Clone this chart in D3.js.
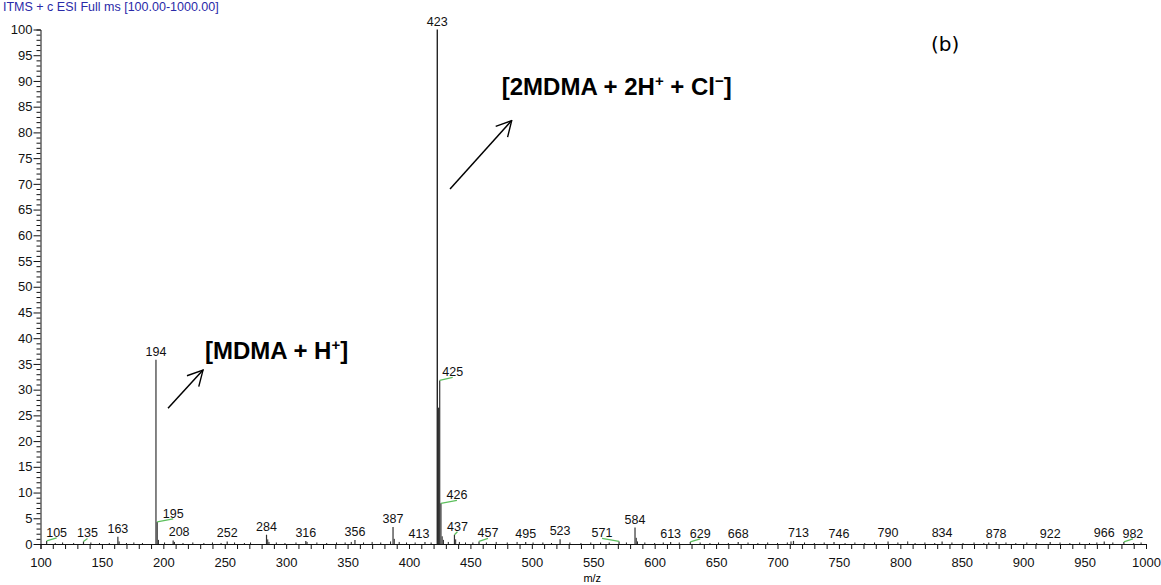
<!DOCTYPE html>
<html>
<head>
<meta charset="utf-8">
<script src="https://cdn.jsdelivr.net/npm/d3@7/dist/d3.min.js"></script>
<style>
body { margin: 0; background: #fff; }
svg { display: block; font-family: "Liberation Sans", Arial, sans-serif; }
</style>
</head>
<body>
<div id="chart"></div>
<script>
// main peaks: m/z and relative abundance (%)
var peakMz  = [105, 135, 163, 194, 195, 208, 252, 284, 316, 356, 387, 413, 423, 424, 425, 426, 437, 457, 495, 523, 571, 584, 613, 629, 668, 713, 746, 790, 834, 878, 922, 966, 982];
var peakInt = [0.6, 0.5, 1.4, 35.8, 4.3, 0.7, 0.5, 1.8, 0.6, 0.8, 3.3, 0.4, 100, 26.5, 31.8, 7.9, 1.8, 0.5, 0.4, 0.9, 0.5, 3.2, 0.4, 0.4, 0.4, 0.6, 0.4, 0.5, 0.5, 0.4, 0.4, 0.5, 0.4];
// peaks without a label
var unlabelled = [424];
// small baseline peaks [m/z, %]
var noise = [[112,0.2],[118,0.3],[127,0.2],[141,0.3],[148,0.2],[156,0.2],[164,0.5],[170,0.2],[176,0.3],[183,0.2],
  [196,0.8],[201,0.3],[209,0.4],[216,0.2],[224,0.3],[233,0.2],[240,0.3],[247,0.2],[258,0.3],[266,0.2],
  [271,0.3],[285,0.9],[286,0.4],[292,0.3],[299,0.2],[308,0.3],[317,0.4],[325,0.3],[333,0.2],[341,0.3],
  [348,0.3],[353,0.4],[363,0.3],[370,0.4],[377,0.3],[385,0.5],[388,1.0],[392,0.4],[398,0.3],[405,0.3],
  [418,0.3],[427,1.5],[428,0.8],[432,0.4],[438,0.9],[441,0.4],[446,0.3],[452,0.3],[463,0.3],[471,0.4],
  [480,0.3],[488,0.4],[501,0.3],[509,0.3],[516,0.2],[531,0.3],[540,0.2],[548,0.3],[556,0.3],[563,0.3],
  [577,0.3],[585,1.2],[586,0.5],[592,0.3],[600,0.2],[607,0.3],[620,0.3],[637,0.3],[645,0.2],[652,0.3],
  [660,0.2],[676,0.3],[684,0.2],[692,0.3],[700,0.2],[708,0.3],[711,0.5],[722,0.3],[730,0.2],[738,0.3],
  [755,0.2],[763,0.3],[771,0.2],[779,0.3],[798,0.3],[806,0.5],[812,0.2],[820,0.3],[828,0.2],[842,0.3],
  [851,0.2],[860,0.3],[868,0.2],[872,0.3],[886,0.3],[894,0.2],[903,0.3],[911,0.2],[930,0.3],[938,0.2],
  [946,0.3],[954,0.2],[960,0.3],[973,0.3],[990,0.2],[996,0.3]];
var xTicks = d3.range(100, 1001, 10);
var yTicks = d3.range(0, 101, 1);
var titleText = "ITMS + c ESI Full ms [100.00-1000.00]";

// label layout: horizontal nudge (px) and which ones get a green leader
var labelShift = {105: 10, 135: 4, 195: 16, 208: 6, 413: -6, 425: 13, 426: 16, 437: 3, 457: 9, 571: -17, 629: 10, 713: 5, 746: 5, 982: 9};
var leaders = [105, 135, 195, 425, 426, 437, 457, 571, 629, 982];

var W = 1161, H = 585;
var x = d3.scaleLinear().domain([100, 1000]).range([40.5, 1146]);
var y = d3.scaleLinear().domain([0, 100]).range([544, 29.5]);

var svg = d3.select("#chart").append("svg")
	.attr("width", W)
	.attr("height", H);

svg.append("defs").append("marker")
	.attr("id", "head")
	.attr("viewBox", "0 0 18 18")
	.attr("refX", 17).attr("refY", 9)
	.attr("markerWidth", 18).attr("markerHeight", 18)
	.attr("markerUnits", "userSpaceOnUse")
	.attr("orient", "auto")
	.append("path")
	.attr("d", "M2,1 L17,9 L2,17")
	.attr("fill", "none")
	.attr("stroke", "#000")
	.attr("stroke-width", 1.4);

// title
svg.append("text")
	.attr("x", 3).attr("y", 11)
	.attr("font-size", 12.5)
	.attr("fill", "#2a2aa8")
	.text(titleText);

// noise sticks
svg.append("g").selectAll("line")
	.data(noise)
	.enter().append("line")
	.attr("x1", function(d) { return x(d[0]); })
	.attr("x2", function(d) { return x(d[0]); })
	.attr("y1", y(0))
	.attr("y2", function(d) { return y(d[1]); })
	.attr("stroke", "#222")
	.attr("stroke-width", 1);

// main peaks
var peaks = peakMz.map(function(m, i) { return {mz: m, v: peakInt[i]}; });
svg.append("g").selectAll("line")
	.data(peaks)
	.enter().append("line")
	.attr("x1", function(d) { return x(d.mz); })
	.attr("x2", function(d) { return x(d.mz); })
	.attr("y1", y(0))
	.attr("y2", function(d) { return y(d.v); })
	.attr("stroke", function(d) { return d.mz == 423 ? "#000" : "#333"; })
	.attr("stroke-width", function(d) { return d.mz == 424 ? 2 : 1.2; });

// peak labels
var lab = peaks.filter(function(d) { return unlabelled.indexOf(d.mz) < 0; });
var g = svg.append("g");
g.selectAll("line")
	.data(lab.filter(function(d) { return leaders.indexOf(d.mz) >= 0; }))
	.enter().append("line")
	.attr("x1", function(d) { return x(d.mz); })
	.attr("y1", function(d) { return y(d.v); })
	.attr("x2", function(d) { return x(d.mz) + (labelShift[d.mz] || 0); })
	.attr("y2", function(d) { return y(d.v) - 3; })
	.attr("stroke", "#5cbf5c")
	.attr("stroke-width", 1.2);
g.selectAll("text")
	.data(lab)
	.enter().append("text")
	.attr("x", function(d) { return x(d.mz) + (labelShift[d.mz] || 0); })
	.attr("y", function(d) { return y(d.v) - 4; })
	.attr("text-anchor", "middle")
	.attr("font-size", 12.5)
	.attr("fill", "#111")
	.text(function(d) { return d.mz; });

// axes
var xAxis = d3.axisBottom(x)
	.tickValues(xTicks)
	.tickSizeOuter(0)
	.tickSize(5)
	.tickFormat(function(d) { return d % 50 == 0 ? d : ""; });
var gx = svg.append("g")
	.attr("transform", "translate(0," + y(0) + ")")
	.call(xAxis);
gx.selectAll("text").attr("font-size", 13).attr("dy", "1.15em").attr("fill", "#111")
	.attr("font-family", "Liberation Sans, Arial, sans-serif");

var yAxis = d3.axisLeft(y)
	.tickValues(yTicks)
	.tickSizeOuter(0)
	.tickSize(4)
	.tickFormat(function(d) { return d % 5 == 0 ? d : ""; });
var gy = svg.append("g")
	.attr("transform", "translate(" + x(100) + ",0)")
	.call(yAxis);
gy.selectAll(".tick line").attr("x2", function(d) { return d % 5 == 0 ? -7 : -4; });
gy.selectAll("text").attr("font-size", 13).attr("x", -8).attr("fill", "#111")
	.attr("font-family", "Liberation Sans, Arial, sans-serif");
svg.selectAll(".domain, .tick line").attr("stroke", "#111");

svg.append("text")
	.attr("x", x(550) - 1).attr("y", 582)
	.attr("text-anchor", "middle")
	.attr("font-size", 11)
	.text("m/z");

// panel tag
svg.append("text")
	.attr("x", 931).attr("y", 51)
	.attr("font-size", 20)
	.attr("font-family", "DejaVu Sans, sans-serif")
	.text("(b)");

// ion annotations (positions in data units)
var notes = [
	{from: [203.8, 26.4], to: [232.3, 33.8], at: [233.9, 36.0]},
	{from: [433.4, 69.0], to: [483.6, 82.3], at: [475.5, 87.3]}
];
svg.selectAll(".arrow")
	.data(notes)
	.enter().append("line")
	.attr("class", "arrow")
	.attr("x1", function(d) { return x(d.from[0]); })
	.attr("y1", function(d) { return y(d.from[1]); })
	.attr("x2", function(d) { return x(d.to[0]); })
	.attr("y2", function(d) { return y(d.to[1]); })
	.attr("stroke", "#000")
	.attr("stroke-width", 1.5)
	.attr("marker-end", "url(#head)");

var t1 = svg.append("text")
	.attr("x", x(notes[0].at[0])).attr("y", y(notes[0].at[1]))
	.attr("font-size", 24).attr("font-weight", "bold");
t1.append("tspan").text("[MDMA + H");
t1.append("tspan").attr("font-size", 15).attr("dy", -9).text("+");
t1.append("tspan").attr("dy", 9).text("]");

var t2 = svg.append("text")
	.attr("x", x(notes[1].at[0])).attr("y", y(notes[1].at[1]))
	.attr("font-size", 24).attr("font-weight", "bold");
t2.append("tspan").text("[2MDMA + 2H");
t2.append("tspan").attr("font-size", 15).attr("dy", -9).text("+");
t2.append("tspan").attr("dy", 9).text(" + Cl");
t2.append("tspan").attr("font-size", 15).attr("dy", -9).text("\u2212");
t2.append("tspan").attr("dy", 9).text("]");
</script>
</body>
</html>
